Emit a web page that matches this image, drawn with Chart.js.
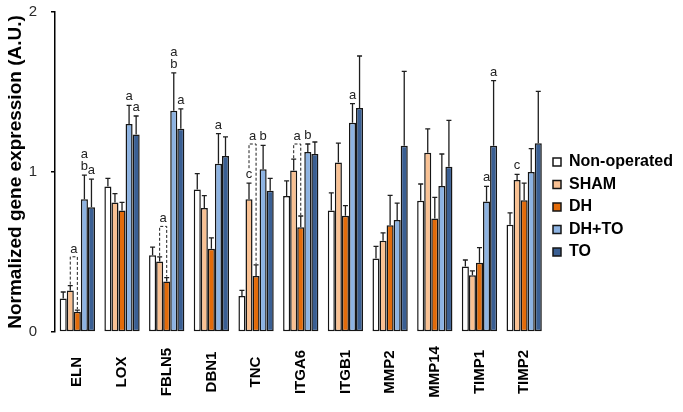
<!DOCTYPE html>
<html>
<head>
<meta charset="utf-8">
<script src="https://cdn.jsdelivr.net/npm/chart.js@4"></script>
<style>
  html, body { margin: 0; padding: 0; background: #fff; }
  #wrap { width: 683px; height: 412px; position: relative; }
</style>
</head>
<body>
<div id="wrap"><canvas id="geneChart"></canvas></div>
<script>
// categories and series (means + upper error)
const genes = ['ELN', 'LOX', 'FBLN5', 'DBN1', 'TNC', 'ITGA6', 'ITGB1', 'MMP2', 'MMP14', 'TIMP1', 'TIMP2'];
const seriesNames = ['Non-operated', 'SHAM', 'DH', 'DH+TO', 'TO'];

const nonOp    = [0.21, 0.91, 0.48, 0.89, 0.225, 0.85, 0.76, 0.46, 0.82, 0.41, 0.67];
const nonOpErr = [0.04, 0.05, 0.05, 0.10, 0.035, 0.095, 0.11, 0.075, 0.105, 0.04, 0.075];
const sham     = [0.26, 0.81, 0.44, 0.775, 0.83, 1.01, 1.06, 0.57, 1.12, 0.355, 0.95];
const shamErr  = [0.03, 0.055, 0.03, 0.077, 0.10, 0.07, 0.12, 0.05, 0.15, 0.027, 0.035];
const dh       = [0.127, 0.76, 0.315, 0.52, 0.35, 0.655, 0.727, 0.667, 0.71, 0.433, 0.823];
const dhErr    = [0.01, 0.05, 0.025, 0.068, 0.07, 0.07, 0.063, 0.187, 0.132, 0.094, 0.107];
const dhTo     = [0.83, 1.30, 1.383, 1.052, 1.017, 1.125, 1.308, 0.70, 0.9125, 0.815, 1.0];
const dhToErr  = [0.15, 0.117, 0.237, 0.188, 0.15, 0.05, 0.119, 0.106, 0.2, 0.095, 0.146];
const to       = [0.78, 1.235, 1.27, 1.10, 0.883, 1.1125, 1.40, 1.164, 1.033, 1.164, 1.179];
const toErr    = [0.176, 0.115, 0.124, 0.12, 0.077, 0.075, 0.325, 0.465, 0.29, 0.407, 0.325];

// significance letters (stacked top to bottom, space separated)
const sigNonOp = ['', '', '', '', '', '', '', '', '', '', ''];
const sigSham  = ['', '', '', '', 'c', '', '', '', '', '', 'c'];
const sigDh    = ['', '', '', '', '', '', '', '', '', '', ''];
const sigDhTo  = ['a b', 'a', 'a b', 'a', 'b', 'b', 'a', '', '', 'a', ''];
const sigTo    = ['a', 'a', 'a', '', '', '', '', '', '', 'a', ''];

// dashed SHAM-vs-DH bracket: top level (A.U.) and its letter
const bracketTop    = [0.47, null, 0.66, null, 1.175, 1.175, null, null, null, null, null];
const bracketLetter = ['a', '', 'a', '', 'a', 'a', '', '', '', '', ''];

const yTicks = [0, 1, 2];

const means = [nonOp, sham, dh, dhTo, to];
const errors = [nonOpErr, shamErr, dhErr, dhToErr, toErr];
const letters = [sigNonOp, sigSham, sigDh, sigDhTo, sigTo];
const fills = ['#ffffff', '#f9c193', '#e26b0a', '#8db3e2', '#3a5f93'];

const FONT = "'Liberation Sans', Arial, sans-serif";

// error bars, letters and the dashed brackets
const marksPlugin = {
    id: 'marks',
    afterDatasetsDraw(chart) {
        const ctx = chart.ctx;
        const yScale = chart.scales.y;
        const tops = [];

        ctx.save();
        ctx.strokeStyle = '#1e1e1e';
        ctx.lineWidth = 1.3;
        chart.data.datasets.forEach((ds, i) => {
            const meta = chart.getDatasetMeta(i);
            tops[i] = [];
            meta.data.forEach((bar, j) => {
                const yTop = yScale.getPixelForValue(ds.data[j] + errors[i][j]);
                tops[i][j] = yTop;
                ctx.beginPath();
                ctx.moveTo(bar.x, bar.y);
                ctx.lineTo(bar.x, yTop);
                ctx.moveTo(bar.x - 2.5, yTop);
                ctx.lineTo(bar.x + 2.5, yTop);
                ctx.stroke();
            });
        });

        ctx.fillStyle = '#222';
        ctx.font = '13px ' + FONT;
        ctx.textAlign = 'center';
        ctx.textBaseline = 'alphabetic';
        letters.forEach((row, i) => {
            const meta = chart.getDatasetMeta(i);
            row.forEach((txt, j) => {
                if (!txt) return;
                const parts = txt.split(' ');
                const x = meta.data[j].x;
                parts.reverse().forEach((p, k) => {
                    ctx.fillText(p, x, tops[i][j] - 5 - k * 12);
                });
            });
        });

        // brackets between SHAM (1) and DH (2)
        const shamMeta = chart.getDatasetMeta(1);
        const dhMeta = chart.getDatasetMeta(2);
        ctx.setLineDash([3, 2]);
        ctx.lineWidth = 1;
        bracketTop.forEach((v, j) => {
            if (v === null) return;
            const yB = yScale.getPixelForValue(v);
            const x1 = shamMeta.data[j].x;
            const x2 = dhMeta.data[j].x;
            const leftEnd = tops[1][j] - (sigSham[j] ? 15 : 1);
            ctx.beginPath();
            ctx.moveTo(x1, leftEnd);
            ctx.lineTo(x1, yB);
            ctx.lineTo(x2, yB);
            ctx.lineTo(x2, tops[2][j] - 1);
            ctx.stroke();
            ctx.fillText(bracketLetter[j], (x1 + x2) / 2, yB - 4);
        });
        ctx.restore();
    },
    // gene names, rotated and centred in the space under the bars
    afterDraw(chart) {
        const ctx = chart.ctx;
        const xScale = chart.scales.x;
        const midY = (xScale.top + xScale.bottom) / 2;
        ctx.save();
        ctx.fillStyle = '#000';
        ctx.font = 'bold 15px ' + FONT;
        ctx.textAlign = 'center';
        ctx.textBaseline = 'middle';
        genes.forEach((g, j) => {
            ctx.save();
            ctx.translate(xScale.getPixelForValue(j), midY);
            ctx.rotate(-Math.PI / 2);
            ctx.fillText(g, 0, 0);
            ctx.restore();
        });
        ctx.restore();
    }
};

const chart = new Chart(document.getElementById('geneChart'), {
    type: 'bar',
    data: {
        labels: genes,
        datasets: seriesNames.map((name, i) => ({
            label: name,
            data: means[i],
            backgroundColor: fills[i],
            borderColor: '#151515',
            borderWidth: 1.5,
            borderSkipped: false,
            barPercentage: 1,
            categoryPercentage: 0.79
        }))
    },
    options: {
        responsive: true,
        maintainAspectRatio: false,
        animation: false,
        layout: { padding: { top: 2, right: 0, bottom: 0, left: 0 } },
        plugins: {
            tooltip: { enabled: false },
            legend: {
                position: 'right',
                align: 'center',
                labels: {
                    color: '#000',
                    font: { family: FONT, size: 16, weight: 'bold' },
                    boxWidth: 8,
                    boxHeight: 8,
                    padding: 6.5
                }
            }
        },
        scales: {
            x: {
                border: { display: false },
                grid: { display: false, drawTicks: false },
                afterFit(scale) { scale.height = 80; },
                ticks: { display: false }
            },
            y: {
                min: 0,
                max: 2,
                afterFit(scale) {
                    scale.width = 55;
                    scale.paddingTop = 12;
                    scale.paddingBottom = 0;
                },
                afterBuildTicks(scale) { scale.ticks = yTicks.map(v => ({ value: v })); },
                border: { display: true, color: '#000', width: 1.5 },
                grid: {
                    display: true,
                    drawOnChartArea: false,
                    drawTicks: true,
                    tickLength: 4,
                    color: '#000',
                    lineWidth: 1.5
                },
                ticks: {
                    color: '#2a2a2a',
                    padding: 14,
                    font: { family: FONT, size: 15 }
                },
                title: {
                    display: true,
                    text: 'Normalized gene expression (A.U.)',
                    color: '#000',
                    font: { family: FONT, size: 19, weight: 'bold' },
                    padding: { top: 4, bottom: 0 }
                }
            }
        }
    },
    plugins: [marksPlugin]
});
</script>
</body>
</html>
